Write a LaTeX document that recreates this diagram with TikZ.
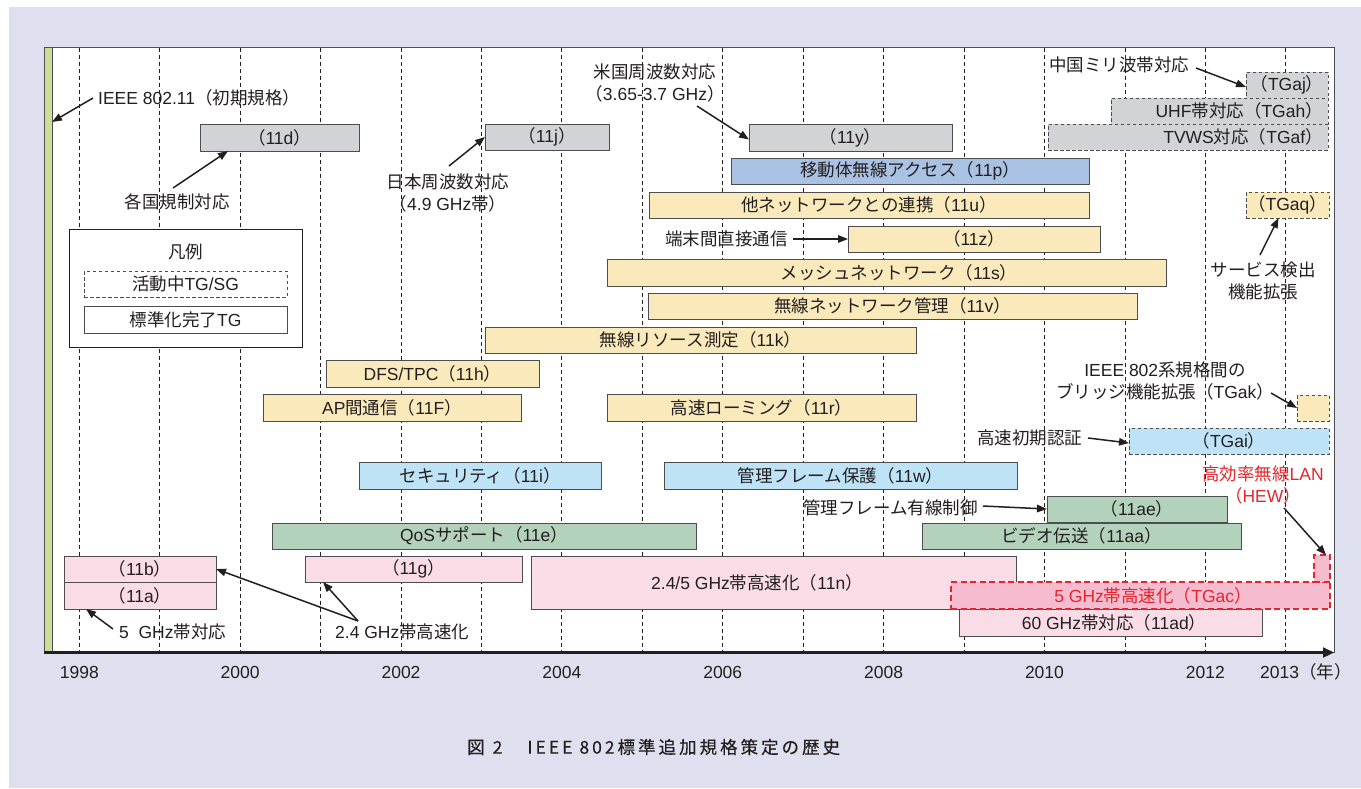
\documentclass[tikz,border=0pt]{standalone}
\usepackage{fontspec}
\setmainfont{Liberation Sans}
\newfontfamily\jp{Noto Sans CJK JP}
\newfontfamily\capf[FakeBold=0.4]{Noto Sans CJK JP}
\usetikzlibrary{arrows.meta}
\newcommand\J[1]{{\jp #1}}
\newcommand\pp[1]{\J{（}#1\J{）}}
\def\lsp#1{\ifx#1\relax\else#1\kern3pt\expandafter\lsp\fi}
\definecolor{bg}{HTML}{DFE0EF}
\definecolor{txt}{HTML}{231F20}
\definecolor{boxline}{HTML}{4D4D4F}
\definecolor{cgray}{HTML}{D1D3D4}
\definecolor{cyel}{HTML}{FAE9BA}
\definecolor{cblue}{HTML}{A9C1E2}
\definecolor{clblue}{HTML}{BEE3F7}
\definecolor{cgreen}{HTML}{B3D2BB}
\definecolor{cpink}{HTML}{FADCE6}
\definecolor{cacfill}{HTML}{F5BCD0}
\definecolor{cred}{HTML}{E3262D}
\definecolor{cbar}{HTML}{C9DF96}
\newcommand\fs{\fontsize{17.5}{22}\selectfont}
\newcommand\bx[7]{\node[box,#6,minimum width={(#4)-(#2)},minimum height={(#5)-(#3)}] (#1) at ({((#2)+(#4))/2},{((#3)+(#5))/2}) {#7};}
\begin{document}
\begin{tikzpicture}[x=1pt,y=-1pt,
  box/.style={draw=boxline,line width=0.9pt,inner sep=0pt,outer sep=0pt,font=\fs,text=txt},
  dbox/.style={dash pattern=on 3.5pt off 2.5pt},
  lab/.style={font=\fs,text=txt,inner sep=1pt,align=center},
  grid/.style={draw=txt,line width=0.8pt,dash pattern=on 4pt off 3pt},
  arr/.style={draw=txt,line width=1.5pt,-{Triangle[length=10pt,width=7.5pt]}},
  acbox/.style={draw=cred,fill=cacfill,line width=2pt,dash pattern=on 6pt off 3.5pt}]
\useasboundingbox (0,0) rectangle (1361,788);
\fill[white] (0,0) rectangle (1361,788);
\fill[bg] (9,7) rectangle (1361,788);
% frame
\filldraw[fill=white,draw=boxline,line width=1pt] (44,47) rectangle (1334,652);
\node[draw=boxline,fill=cbar,line width=0.8pt,inner sep=0pt,outer sep=0pt,minimum width=8pt,minimum height=605pt] (bar) at (48,349.5) {};
% grid
\foreach \i in {0,...,15} \draw[grid] ({79.3+80.43*\i},47.5) -- ({79.3+80.43*\i},651);
% axis
\coordinate (ax0) at (44,652.5);
\coordinate (ax1) at (1334,652.5);
\draw[line width=2.2pt,draw=txt,-{Triangle[length=11pt,width=10pt]}] (ax0) -- (ax1);
\foreach \yr/\i in {1998/0,2000/2,2002/4,2004/6,2006/8,2008/10,2010/12,2012/14}
  \node[lab] (yr\yr) at ({79.3+80.43*\i},672) {\yr};
\node[lab,anchor=west,inner sep=0pt] (yr2013) at (1260,672) {2013\J{（年）}};
% legend
\bx{leg}{69}{229}{302}{347}{fill=white,draw=txt}{}
\node[lab] (legT) at (185.5,252) {\J{凡例}};
\bx{legA}{84}{271}{287}{297}{fill=white,dbox}{\J{活動中}TG/SG}
\bx{legB}{84}{306}{287}{333}{fill=white}{\J{標準化完了}TG}
% gray
\bx{b11d}{200}{124}{359}{151}{fill=cgray}{\pp{11d}}
\bx{b11j}{485}{124}{609}{150}{fill=cgray}{\pp{11j}}
\bx{b11y}{749}{124}{952}{151}{fill=cgray}{\pp{11y}}
\bx{bTGaj}{1246}{72}{1328}{98}{fill=cgray,dbox}{\pp{TGaj}}
\bx{bTGah}{1111}{98}{1328}{124}{fill=cgray,dbox}{}
\bx{bTGaf}{1048}{124}{1328}{150}{fill=cgray,dbox}{}
\node[lab,anchor=east,inner sep=0pt] (tTGah) at (1323,111) {UHF\J{帯対応}\pp{TGah}};
\node[lab,anchor=east,inner sep=0pt] (tTGaf) at (1323,137) {TVWS\J{対応}\pp{TGaf}};
% blue / yellow
\bx{b11p}{731}{158}{1089}{184}{fill=cblue}{\J{移動体無線アクセス}\pp{11p}}
\bx{b11u}{649}{192}{1089}{218}{fill=cyel}{\J{他ネットワークとの連携}\pp{11u}}
\bx{b11z}{848}{226}{1100}{252}{fill=cyel}{\pp{11z}}
\bx{b11s}{607}{259}{1166}{286}{fill=cyel}{}
\node[lab] (t11s) at (899,272.5) {\J{メッシュネットワーク}\pp{11s}};
\bx{b11v}{648}{293}{1137}{319}{fill=cyel}{\J{無線ネットワーク管理}\pp{11v}}
\bx{b11k}{485}{327}{916}{353}{fill=cyel}{\J{無線リソース測定}\pp{11k}}
\bx{b11h}{326}{360}{539}{387}{fill=cyel}{DFS/TPC\pp{11h}}
\bx{b11F}{263}{394}{521}{421}{fill=cyel}{AP\J{間通信}\pp{11F}}
\bx{b11r}{607}{394}{916}{421}{fill=cyel}{\J{高速ローミング}\pp{11r}}
\bx{bTGaq}{1246}{192}{1329}{218}{fill=cyel,dbox}{\pp{TGaq}}
\bx{bTGak}{1297}{395}{1329}{421}{fill=cyel,dbox}{}
% light blue
\bx{b11i}{359}{462}{601}{489}{fill=clblue}{\J{セキュリティ}\pp{11i}}
\bx{b11w}{664}{462}{1017}{489}{fill=clblue}{\J{管理フレーム保護}\pp{11w}}
\bx{bTGai}{1129}{428}{1329}{454}{fill=clblue,dbox}{\pp{TGai}}
% green
\bx{b11ae}{1047}{496}{1227}{522}{fill=cgreen}{\pp{11ae}}
\bx{b11e}{272}{523}{696}{549}{fill=cgreen}{QoS\J{サポート}\pp{11e}}
\bx{b11aa}{922}{523}{1241}{549}{fill=cgreen}{\J{ビデオ伝送}\pp{11aa}}
% pink
\bx{b11b}{64}{556}{216}{582}{fill=cpink}{\pp{11b}}
\bx{b11a}{64}{582}{216}{609}{fill=cpink}{\pp{11a}}
\bx{b11g}{305}{556}{522}{582}{fill=cpink}{\pp{11g}}
\bx{b11n}{531}{556}{1016}{609}{fill=cpink}{}
\node[lab] (t11n) at (757,583) {2.4/5 GHz\J{帯高速化}\pp{11n}};
\bx{b11ad}{959}{609}{1262}{636}{fill=cpink}{}
\node[lab] (t11ad) at (1114,622.5) {60 GHz\J{帯対応}\pp{11ad}};
\bx{bTGac}{951}{582}{1330}{609}{acbox}{}
\bx{bTGacs}{1314}{555}{1330}{582}{acbox}{}
\node[lab,text=cred] (tTGac) at (1153,595.5) {5 GHz\J{帯高速化}\pp{TGac}};
% labels
\node[lab,anchor=west] (lInit) at (97,98) {IEEE 802.11\J{（初期規格）}};
\node[lab] (lD) at (177,202) {\J{各国規制対応}};
\node[lab] (lJ) at (448,193) {\J{日本周波数対応}\\\J{（}4.9 GHz\J{帯）}};
\node[lab] (lY) at (655,82.5) {\J{米国周波数対応}\\\pp{3.65-3.7 GHz}};
\node[lab,anchor=west] (lAj) at (1048,65) {\J{中国ミリ波帯対応}};
\node[lab] (lAq) at (1263,281) {\J{サービス検出}\\\J{機能拡張}};
\node[lab] (lAk) at (1165,381) {IEEE 802\J{系規格間の}\\\J{ブリッジ機能拡張}\pp{TGak}};
\node[lab,anchor=west] (lAi) at (976,438) {\J{高速初期認証}};
\node[lab,text=cred] (lHew) at (1263,485) {\J{高効率無線}LAN\\\pp{HEW}};
\node[lab,anchor=east] (lAe) at (979,508) {\J{管理フレーム有線制御}};
\node[lab,anchor=east] (lZ) at (789,239) {\J{端末間直接通信}};
\node[lab,anchor=west] (lA) at (118,632) {5\hspace{0.55em}GHz\J{帯対応}};
\node[lab,anchor=west] (lG) at (334,632) {2.4 GHz\J{帯高速化}};
% arrow tails
\coordinate (tInit) at (93,98);
\coordinate (tD) at (173,188);
\coordinate (tJ) at (449,166);
\coordinate (tY) at (697,106);
\coordinate (tAj) at (1196,68);
\coordinate (tAq) at (1260,255);
\coordinate (tAk) at (1271,393);
\coordinate (tAi) at (1088,438);
\coordinate (tHew) at (1284,508);
\coordinate (tAe) at (983,506);
\coordinate (tZ) at (793,239);
\coordinate (tA) at (113,629);
\coordinate (tG) at (358,621);
% arrows
\draw[arr] (tInit) -- ([yshift=-75pt]bar.north east);
\draw[arr] (tD) -- ([xshift=28pt]b11d.south west);
\draw[arr] (tJ) -- (b11j.west);
\draw[arr] (tY) -- ([yshift=-2pt]b11y.west);
\draw[arr] (tAj) -- ([yshift=-2pt]bTGaj.west);
\draw[arr] (tAq) -- ([xshift=-9pt]bTGaq.south);
\draw[arr] (tAk) -- (bTGak.west);
\draw[arr] (tAi) -- ([yshift=-2pt]bTGai.west);
\draw[arr] (tHew) -- ([xshift=4pt]bTGacs.north);
\draw[arr] (tAe) -- (b11ae.west);
\draw[arr] (tZ) -- (b11z.west);
\draw[arr] (tA) -- ([xshift=22pt]b11a.south west);
\draw[arr] (tG) -- (b11b.east);
\draw[arr] (tG) -- ([xshift=18pt]b11g.south west);
% caption
\node[anchor=west,inner sep=0pt,text=txt,font={\capf\fontsize{17.5}{20}\selectfont}] (cap) at (467,747)
  {図\hspace{8pt}2\hspace{25pt}\lsp IEEE\relax\hspace{4pt}\lsp 802\relax\lsp 標準追加規格策定の歴史\relax};
\end{tikzpicture}
\end{document}
